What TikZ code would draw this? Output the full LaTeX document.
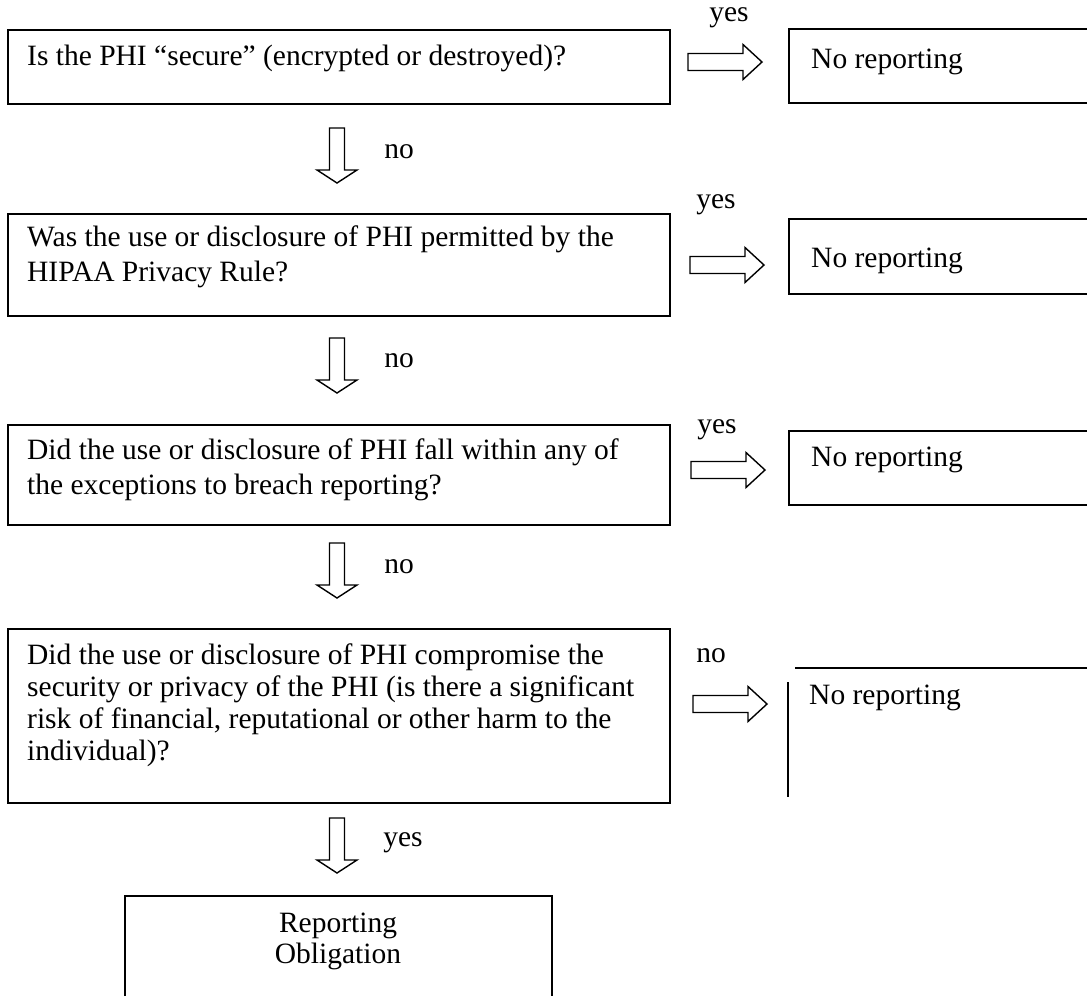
\documentclass[tikz,border=0pt]{standalone}
\usepackage{fontspec}
\setmainfont{Liberation Serif}
\begin{document}
\begin{tikzpicture}[x=1pt,y=-1pt,
  qbox/.style={draw, line width=1.6pt, rectangle, inner sep=0pt, anchor=north west},
  edge/.style={line width=1.6pt},
  qtext/.style={font=\fontsize{29.5}{35}\selectfont, inner sep=0pt, align=left, anchor=north west},
  qtextb/.style={qtext, font=\fontsize{29.5}{32}\selectfont},
  lbl/.style={font=\fontsize{29.5}{30}\selectfont, inner sep=0pt},
  arrowline/.style={draw, line width=1.4pt, line join=miter},
  rarrow/.pic={\path[arrowline] (0,-8.5) -- (55,-8.5) -- (55,-17.5) -- (74,0) -- (55,17.5) -- (55,8.5) -- (0,8.5) -- cycle;},
  darrow/.pic={\path[arrowline] (-7.5,0) -- (7.5,0) -- (7.5,42) -- (20,42) -- (0,55) -- (-20,42) -- (-7.5,42) -- cycle;}
]
\useasboundingbox (0,0) rectangle (1087,996);

% question boxes
\node[qbox, minimum width=662pt, minimum height=74pt] (q1) at (7,29) {};
\node[qbox, minimum width=662pt, minimum height=102pt] (q2) at (7,213) {};
\node[qbox, minimum width=662pt, minimum height=100pt] (q3) at (7,424) {};
\node[qbox, minimum width=662pt, minimum height=174pt] (q4) at (7,628) {};

\node[qtext] (t1) at (27,45) {Is the PHI “secure” (encrypted or destroyed)?};
\node[qtext] (t2) at (27,226) {Was the use or disclosure of PHI permitted by the\\HIPAA Privacy Rule?};
\node[qtext] (t3) at (27,439) {Did the use or disclosure of PHI fall within any of\\the exceptions to breach reporting?};
\node[qtextb] (t4) at (27,644) {Did the use or disclosure of PHI compromise the\\security or privacy of the PHI (is there a significant\\risk of financial, reputational or other harm to the\\individual)?};

% no reporting boxes (open on the right)
\draw[edge] (1087,29) -- (789,29) -- (789,103) -- (1087,103);
\draw[edge] (1087,219) -- (789,219) -- (789,294) -- (1087,294);
\draw[edge] (1087,431) -- (789,431) -- (789,505) -- (1087,505);
\draw[edge] (795,668) -- (1087,668);
\draw[edge] (788,682) -- (788,797);

\node[qtext] (n1) at (811,49) {No reporting};
\node[qtext] (n2) at (811,248) {No reporting};
\node[qtext] (n3) at (811,447) {No reporting};
\node[qtext] (n4) at (809,685) {No reporting};

% reporting obligation box (open at the bottom)
\draw[edge] (125,996) -- (125,896) -- (552,896) -- (552,996);
\node[font=\fontsize{29.5}{31}\selectfont, inner sep=0pt, align=center, anchor=north] (r) at (338,913) {Reporting\\Obligation};

% block arrows
\pic at (688,62) {rarrow};
\pic at (690,265) {rarrow};
\pic at (691,470) {rarrow};
\pic at (693,704) {rarrow};
\pic at (337,128) {darrow};
\pic at (337,338) {darrow};
\pic at (337,543) {darrow};
\pic at (337,818) {darrow};

% labels
\node[lbl] (y1) at (729,18) {yes};
\node[lbl] (y2) at (716,205) {yes};
\node[lbl] (y3) at (717,430) {yes};
\node[lbl] (o4) at (711,656) {no};
\node[lbl] (o1) at (399,152) {no};
\node[lbl] (o2) at (399,361) {no};
\node[lbl] (o3) at (399,567) {no};
\node[lbl] (y4) at (403,843) {yes};
\end{tikzpicture}
\end{document}
